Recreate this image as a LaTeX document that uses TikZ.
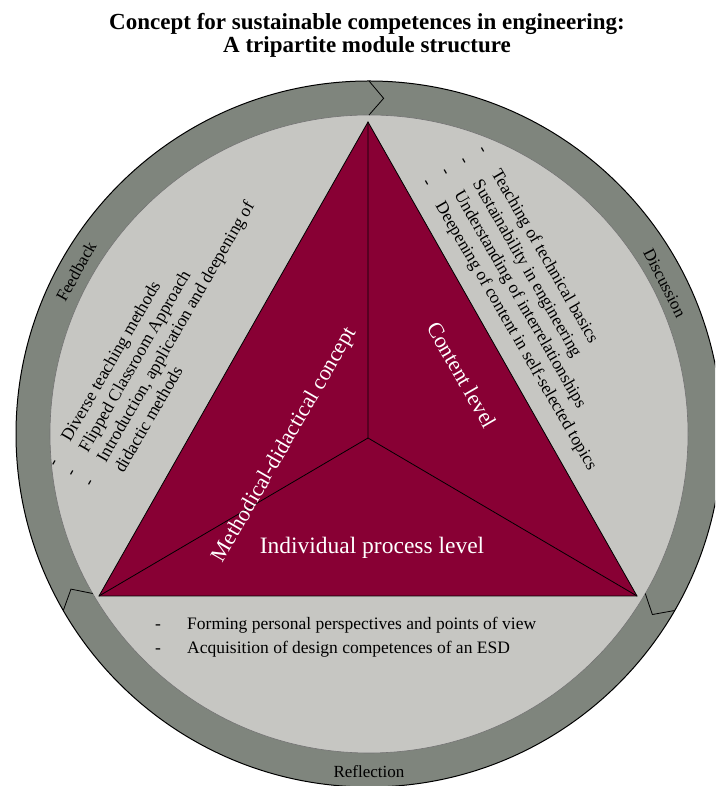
\documentclass[tikz,border=0pt]{standalone}
\usepackage{fontspec}
\setmainfont{Liberation Serif}
\definecolor{ringc}{HTML}{7F857D}
\definecolor{diskc}{HTML}{C6C6C2}
\definecolor{tric}{HTML}{880034}
\begin{document}
\begin{tikzpicture}[x=1pt,y=1pt,
  listtxt/.style={font=\fontsize{17.5}{21}\selectfont, inner sep=0pt, anchor=base west},
  tritxt/.style={font=\fontsize{22}{26}\selectfont, text=white, inner sep=0pt},
  ringtxt/.style={font=\fontsize{17}{20}\selectfont, inner sep=0pt},
  titletxt/.style={font=\bfseries\fontsize{23}{23}\selectfont, inner sep=0pt, anchor=base},
  chev/.style={draw=black, line width=0.8pt},
  edge/.style={draw=black, line width=0.8pt},
]
\useasboundingbox (0,0) rectangle (715,786);
\clip (0,0) rectangle (715,786);
% title
\node[titletxt] (t1) at (367,756) {Concept for sustainable competences in engineering:};
\node[titletxt] (t2) at (367,733) {A tripartite module structure};
% ring and disk
\coordinate (O) at (369,352);
\fill[ringc] (O) circle (353);
\draw[black, line width=1pt] (O) circle (353);
\fill[diskc] (O) circle (319);
\draw[black!55, line width=0.6pt] (O) circle (319);
\begin{scope}[shift={(369,352)}]
  \foreach \a in {90,210,330}{
    \draw[chev] (\a:353) -- (\a-2.5:336) -- (\a:319);
  }
  \node[ringtxt, rotate=61] (fb) at (151:335) {Feedback};
  \node[ringtxt, rotate=-63] (di) at (27:332) {Discussion};
  \node[ringtxt] (re) at (270:338) {Reflection};
\end{scope}
% triangle
\coordinate (A) at (368,664);
\coordinate (BL) at (99,190);
\coordinate (BR) at (637,190);
\coordinate (G) at (368,348);
\fill[tric] (A) -- (BL) -- (BR) -- cycle;
\draw[edge, line join=miter] (A) -- (BL) -- (BR) -- cycle;
\draw[edge] (A) -- (G) (BL) -- (G) (BR) -- (G);
\node[tritxt, rotate=60] (md) at (285,341) {Methodical-didactical concept};
\node[tritxt, rotate=-60] (cl) at (462,411) {Content level};
\node[tritxt, font=\fontsize{23.5}{26}\selectfont] (ip) at (372,238) {Individual process level};
% left list
\begin{scope}[shift={(70,343)}, rotate=60, transform shape]
  \node[listtxt] (l1) at (0,0) {Diverse teaching methods};
  \node[listtxt] (l2) at (0,-20.6) {Flipped Classroom Approach};
  \node[listtxt] (l3) at (0,-41.2) {Introduction, application and deepening of};
  \node[listtxt] (l4) at (0,-61.8) {didactic methods};
  \node[listtxt] (ld1) at (-28,0) {-};
  \node[listtxt] (ld2) at (-28,-20.6) {-};
  \node[listtxt] (ld3) at (-28,-41.2) {-};
\end{scope}
% right list
\begin{scope}[shift={(491,613)}, rotate=-60, transform shape]
  \node[listtxt] (r1) at (0,0) {Teaching of technical basics};
  \node[listtxt] (r2) at (0,-21.5) {Sustainability in engineering};
  \node[listtxt] (r3) at (0,-43) {Understanding of interrelationships};
  \node[listtxt] (r4) at (0,-64.5) {Deepening of content in self-selected topics};
  \node[listtxt] (rd1) at (-27,0) {-};
  \node[listtxt] (rd2) at (-27,-21.5) {-};
  \node[listtxt] (rd3) at (-27,-43) {-};
  \node[listtxt] (rd4) at (-27,-64.5) {-};
\end{scope}
% bottom list
\node[listtxt] (b1) at (187,156) {Forming personal perspectives and points of view};
\node[listtxt] (b2) at (187,132) {Acquisition of design competences of an ESD};
\node[listtxt] (bd1) at (155,156) {-};
\node[listtxt] (bd2) at (155,132) {-};
\end{tikzpicture}
\end{document}
